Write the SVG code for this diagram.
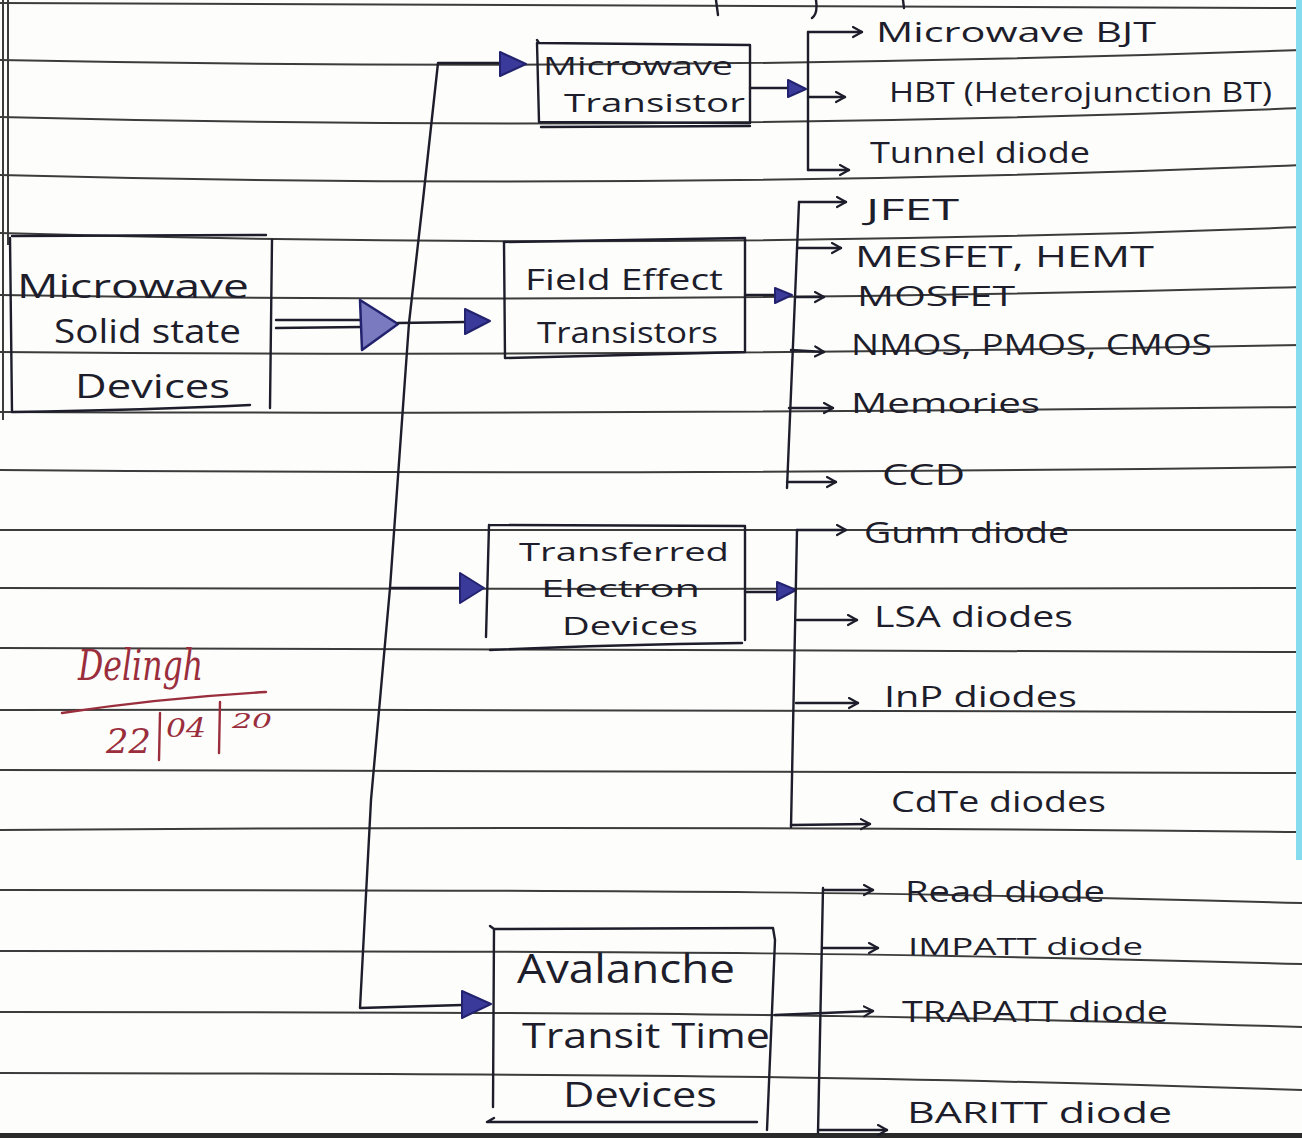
<svg xmlns="http://www.w3.org/2000/svg" width="1302" height="1138" viewBox="0 0 1302 1138">
<defs>
<style>
.rule{fill:none;stroke:#3c3c3c;stroke-width:2}
.ink{fill:none;stroke:#1d1d2b;stroke-width:2.4;stroke-linecap:round;stroke-linejoin:round}
.tri{fill:#3a3a9a;stroke:#22226e;stroke-width:2;stroke-linejoin:round}
.big{fill:#7a7ac0;stroke:#22226e;stroke-width:2.5;stroke-linejoin:round}
.br{fill:none;stroke:#1d1d2b;stroke-width:2.4;stroke-linecap:round;marker-end:url(#chev)}
.t{font-family:"Open Sans","Liberation Sans",sans-serif;fill:#1d1d2b}
.sig{font-family:"DejaVu Serif","Liberation Serif",serif;font-style:italic;fill:#9a2e3c}
.red{fill:none;stroke:#9a2e3c;stroke-width:2.4;stroke-linecap:round}
</style>
<marker id="chev" markerUnits="userSpaceOnUse" markerWidth="14" markerHeight="14" refX="10" refY="6" orient="auto">
<path d="M1,1 L10,6 L1,11" fill="none" stroke="#1d1d2b" stroke-width="2.2" stroke-linecap="round" stroke-linejoin="round"/>
</marker>
</defs>
<rect x="0" y="0" width="1302" height="1138" fill="#fdfdfb"/>
<g id="paper">
<path class="rule" d="M0,3 Q651,4.5 1302,8"/>
<path class="rule" d="M0,60 Q651,73 1302,50"/>
<path class="rule" d="M0,117 Q651,133.5 1302,108"/>
<path class="rule" d="M0,175 Q651,192 1302,165"/>
<path class="rule" d="M0,233 Q651,252 1302,227"/>
<path class="rule" d="M0,295 Q651,305 1302,287"/>
<path class="rule" d="M0,352 Q651,357.5 1302,345"/>
<path class="rule" d="M0,412 Q651,414.5 1302,407"/>
<path class="rule" d="M0,470 Q651,475.5 1302,467"/>
<path class="rule" d="M0,530 L1302,530"/>
<path class="rule" d="M0,588 Q651,590 1302,588"/>
<path class="rule" d="M0,648 Q651,650 1302,652"/>
<path class="rule" d="M0,710 Q651,709 1302,712"/>
<path class="rule" d="M0,770 Q651,770.5 1302,773"/>
<path class="rule" d="M0,830 Q651,825 1302,832"/>
<path class="rule" d="M0,890 C700,890 900,892 1302,903"/>
<path class="rule" d="M0,951 C700,951 900,953 1302,964"/>
<path class="rule" d="M0,1012 C700,1012 900,1015 1302,1027"/>
<path class="rule" d="M0,1073 C700,1074 900,1077 1302,1090"/>
<rect x="0" y="1133" width="1302" height="5" fill="#2a2a2a"/>
<path class="rule" d="M3,0 L3,420"/>
<path class="rule" d="M8,0 L8,245"/>
<rect x="1296" y="0" width="6" height="860" fill="#86dcef"/>
<path class="ink" d="M716,0 L718,15 M816,0 Q818,14 812,18 M903,0 L904,8"/>
</g>
<g id="connectors">
<path class="ink" d="M276,320 L362,320 M276,328 L362,327"/>
<polygon class="big" points="360,300 398,324 362,350"/>
<path class="ink" d="M398,323 L465,322"/>
<polygon class="tri" points="465,309 490,321 465,334"/>
<path class="ink" d="M500,63 L438,63 L423,200 L409,323 L390,588 L371,800 L360,1008 L462,1005"/>
<polygon class="tri" points="500,52 526,64 500,76"/>
<path class="ink" d="M390,588 L460,588"/>
<polygon class="tri" points="460,573 484,588 460,603"/>
<polygon class="tri" points="462,991 491,1004 462,1018"/>
<path class="ink" d="M750,88 L790,88"/>
<polygon class="tri" points="788,80 806,89 788,97"/>
<path class="ink" d="M808,32 L808,170"/>
<path class="br" d="M808,32 L862,32"/>
<path class="br" d="M808,97 L845,97"/>
<path class="br" d="M808,170 L849,170"/>
<path class="ink" d="M745,295 L776,295"/>
<polygon class="tri" points="775,288 792,295 775,303"/>
<path class="ink" d="M799,202 L787,488"/>
<path class="br" d="M799,202 L846,202"/>
<path class="br" d="M797,248 L841,248"/>
<path class="br" d="M795,297 L824,297"/>
<path class="br" d="M791,350 L824,352"/>
<path class="br" d="M789,408 L833,408"/>
<path class="br" d="M787,482 L836,482"/>
<path class="ink" d="M745,592 L778,592"/>
<polygon class="tri" points="777,582 796,590 777,600"/>
<path class="ink" d="M797,530 L791,827"/>
<path class="br" d="M797,530 L846,530"/>
<path class="br" d="M797,620 L857,620"/>
<path class="br" d="M796,703 L858,703"/>
<path class="br" d="M791,825 L870,824"/>
<path class="br" d="M775,1015 L873,1011"/>
<path class="ink" d="M823,888 L818,1133"/>
<path class="br" d="M823,890 L873,890"/>
<path class="br" d="M822,948 L878,948"/>
<path class="br" d="M818,1130 L887,1130"/>
</g>
<g id="n-main">
<path class="ink" d="M12,236 L266,235 M10,238 L12,412 M272,240 L270,408 M12,412 Q150,410 250,405"/>
<text class="t" x="17" y="298" font-size="32" textLength="232" lengthAdjust="spacingAndGlyphs">Microwave</text>
<text class="t" x="54" y="343" font-size="32" textLength="187" lengthAdjust="spacingAndGlyphs">Solid state</text>
<text class="t" x="75" y="398" font-size="32" textLength="155" lengthAdjust="spacingAndGlyphs">Devices</text>
</g>
<g id="n-mt">
<path class="ink" d="M537,40 L539,43 L750,45 L750,123 L539,122 L537,43 M541,127 L750,126"/>
<text class="t" x="543" y="75" font-size="26" textLength="190" lengthAdjust="spacingAndGlyphs">Microwave</text>
<text class="t" x="564" y="112" font-size="26" textLength="181" lengthAdjust="spacingAndGlyphs">Transistor</text>
</g>
<g id="n-fet">
<path class="ink" d="M504,242 L745,238 L745,352 L505,358 Z"/>
<text class="t" x="525" y="290" font-size="30" textLength="198" lengthAdjust="spacingAndGlyphs">Field Effect</text>
<text class="t" x="537" y="343" font-size="30" textLength="181" lengthAdjust="spacingAndGlyphs">Transistors</text>
</g>
<g id="n-ted">
<path class="ink" d="M489,525 L745,526 L745,640 M489,525 L486,637 M490,650 Q600,645 742,643"/>
<text class="t" x="519" y="561" font-size="26" textLength="210" lengthAdjust="spacingAndGlyphs">Transferred</text>
<text class="t" x="541" y="597" font-size="23" textLength="159" lengthAdjust="spacingAndGlyphs">Electron</text>
<text class="t" x="562" y="635" font-size="25" textLength="136" lengthAdjust="spacingAndGlyphs">Devices</text>
</g>
<g id="n-atd">
<path class="ink" d="M490,926 L494,929 L773,928 L775,940 L767,1130 M494,929 L493,1107 M487,1122 L757,1122 M487,1122 L494,1118"/>
<text class="t" x="517" y="983" font-size="40" textLength="218" lengthAdjust="spacingAndGlyphs">Avalanche</text>
<text class="t" x="522" y="1048" font-size="34" textLength="248" lengthAdjust="spacingAndGlyphs">Transit Time</text>
<text class="t" x="563" y="1107" font-size="34" textLength="154" lengthAdjust="spacingAndGlyphs">Devices</text>
</g>
<g id="leaves-mt">
<text class="t" x="876" y="42" font-size="28" textLength="280" lengthAdjust="spacingAndGlyphs">Microwave BJT</text>
<text class="t" x="889" y="102" font-size="28" textLength="383" lengthAdjust="spacingAndGlyphs">HBT (Heterojunction BT)</text>
<text class="t" x="870" y="163" font-size="30" textLength="220" lengthAdjust="spacingAndGlyphs">Tunnel diode</text>
</g>
<g id="leaves-fet">
<text class="t" x="866" y="220" font-size="30" textLength="93" lengthAdjust="spacingAndGlyphs">JFET</text>
<text class="t" x="855" y="267" font-size="30" textLength="299" lengthAdjust="spacingAndGlyphs">MESFET, HEMT</text>
<text class="t" x="857" y="306" font-size="28" textLength="158" lengthAdjust="spacingAndGlyphs">MOSFET</text>
<text class="t" x="851" y="355" font-size="30" textLength="361" lengthAdjust="spacingAndGlyphs">NMOS, PMOS, CMOS</text>
<text class="t" x="851" y="413" font-size="28" textLength="189" lengthAdjust="spacingAndGlyphs">Memories</text>
<text class="t" x="882" y="485" font-size="30" textLength="83" lengthAdjust="spacingAndGlyphs">CCD</text>
</g>
<g id="leaves-ted">
<text class="t" x="864" y="543" font-size="30" textLength="205" lengthAdjust="spacingAndGlyphs">Gunn diode</text>
<text class="t" x="874" y="627" font-size="30" textLength="199" lengthAdjust="spacingAndGlyphs">LSA diodes</text>
<text class="t" x="884" y="707" font-size="30" textLength="193" lengthAdjust="spacingAndGlyphs">InP diodes</text>
<text class="t" x="891" y="812" font-size="30" textLength="215" lengthAdjust="spacingAndGlyphs">CdTe diodes</text>
</g>
<g id="leaves-atd">
<text class="t" x="905" y="902" font-size="30" textLength="200" lengthAdjust="spacingAndGlyphs">Read diode</text>
<text class="t" x="908" y="955" font-size="24" textLength="235" lengthAdjust="spacingAndGlyphs">IMPATT diode</text>
<text class="t" x="902" y="1022" font-size="30" textLength="266" lengthAdjust="spacingAndGlyphs">TRAPATT diode</text>
<text class="t" x="907" y="1123" font-size="30" textLength="265" lengthAdjust="spacingAndGlyphs">BARITT diode</text>
</g>
<g id="signature">
<text class="sig" x="78" y="680" font-size="42" textLength="125" lengthAdjust="spacingAndGlyphs">Delingh</text>
<path class="red" d="M62,713 Q160,698 266,692"/>
<text class="sig" x="106" y="753" font-size="34" font-style="normal" textLength="45" lengthAdjust="spacingAndGlyphs">22</text>
<path class="red" d="M160,713 L159,760 M220,702 L219,753"/>
<text class="sig" x="166" y="737" font-size="26" font-style="normal" textLength="40" lengthAdjust="spacingAndGlyphs">04</text>
<text class="sig" x="232" y="728" font-size="20" font-style="normal" textLength="40" lengthAdjust="spacingAndGlyphs">20</text>
</g>
</svg>
